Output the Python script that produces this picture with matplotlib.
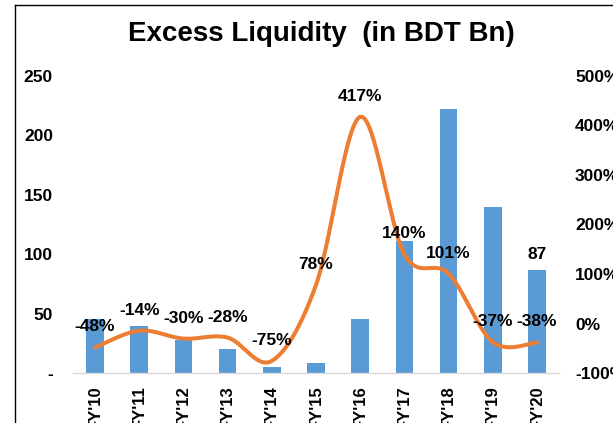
import numpy as np
import matplotlib
matplotlib.use("Agg")
import matplotlib.pyplot as plt
from matplotlib.lines import Line2D

plt.rcParams['font.family'] = ['Liberation Sans', 'DejaVu Sans']

categories = ["FY'10", "FY'11", "FY'12", "FY'13", "FY'14", "FY'15",
              "FY'16", "FY'17", "FY'18", "FY'19", "FY'20"]
liquidity = [46, 40, 28, 20, 5, 9, 46, 111, 222, 140, 87]
growth = [-48, -14, -30, -28, -75, 78, 417, 140, 101, -37, -38]
left_ticks = [0, 50, 100, 150, 200, 250]
left_tick_labels = ["-", "50", "100", "150", "200", "250"]
right_ticks = [-100, 0, 100, 200, 300, 400, 500]
right_tick_labels = ["-100%", "0%", "100%", "200%", "300%", "400%", "500%"]

W, H = 613, 423
fig = plt.figure(figsize=(W / 100, H / 100), dpi=100)
ax_l, ax_r, ax_b, ax_t = 73, 559, 373.3, 75.7
ax = fig.add_axes([ax_l / W, 1 - ax_b / H, (ax_r - ax_l) / W, (ax_b - ax_t) / H])
ax2 = ax.twinx()

x = np.arange(len(categories))
ax.bar(x, liquidity, width=0.4, color='#5B9BD5', zorder=2)
ax.set_xlim(-0.5, len(categories) - 0.5)
ax.set_ylim(0, 250)
ax2.set_ylim(-100, 500)

# smoothed line (Catmull-Rom style Bezier in pixel space)
px_per_x = (ax_r - ax_l) / len(categories)
px_per_y = (ax_b - ax_t) / 600.0
P = np.column_stack([x * px_per_x, np.array(growth, float) * px_per_y])
n = len(P)
pts = []
for i in range(n - 1):
    p0 = P[i - 1] if i > 0 else P[i]
    p1 = P[i]
    p2 = P[i + 1]
    p3 = P[i + 2] if i + 2 < n else P[i + 1]
    c1 = p1 + (p2 - p0) / 6.0
    c2 = p2 - (p3 - p1) / 6.0
    t = np.linspace(0, 1, 40)[:, None]
    seg = (1 - t) ** 3 * p1 + 3 * (1 - t) ** 2 * t * c1 + 3 * (1 - t) * t ** 2 * c2 + t ** 3 * p2
    pts.append(seg if i == 0 else seg[1:])
curve = np.vstack(pts)
ax2.plot(curve[:, 0] / px_per_x, curve[:, 1] / px_per_y, color='#ED7D31',
         lw=2.9, solid_capstyle='round', zorder=3)

for xi, g in zip(x, growth):
    ax2.annotate(f"{g}%", (xi, g), xytext=(0, 14.8), textcoords='offset points',
                 ha='center', va='center', fontsize=12.5, fontweight='bold', zorder=4)
ax.annotate(f"{liquidity[-1]}", (x[-1], liquidity[-1]), xytext=(0, 11.2),
            textcoords='offset points', ha='center', va='center',
            fontsize=12.5, fontweight='bold')

for a in (ax, ax2):
    for s in ('top', 'left', 'right'):
        a.spines[s].set_visible(False)
ax2.spines['bottom'].set_visible(False)
ax.spines['bottom'].set_color('#D9D9D9')
ax.spines['bottom'].set_linewidth(1.0)
ax.patch.set_visible(False)

ax.set_yticks(left_ticks)
ax.set_yticklabels(left_tick_labels, fontsize=12.5, fontweight='bold')
ax.tick_params(axis='y', length=0, pad=14.4)
ax2.set_yticks(right_ticks)
ax2.set_yticklabels(right_tick_labels, fontsize=12.5, fontweight='bold')
ax2.tick_params(axis='y', length=0, pad=11.5)
ax.set_xticks(x)
ax.set_xticklabels(categories, rotation=90, fontsize=12, fontweight='bold', va='top')
ax.tick_params(axis='x', length=0, pad=8.5)

fig.text(321.5 / W, 1 - 34 / H, "Excess Liquidity  (in BDT Bn)", ha='center', va='center',
         fontsize=20, fontweight='bold')

bx, by = 15.3 / W, 1 - 5.5 / H
fig.add_artist(Line2D([bx, bx], [0, by], color='black', lw=1.0, transform=fig.transFigure))
fig.add_artist(Line2D([bx, 1], [by, by], color='black', lw=1.0, transform=fig.transFigure))

fig.savefig("out.png", dpi=100)
